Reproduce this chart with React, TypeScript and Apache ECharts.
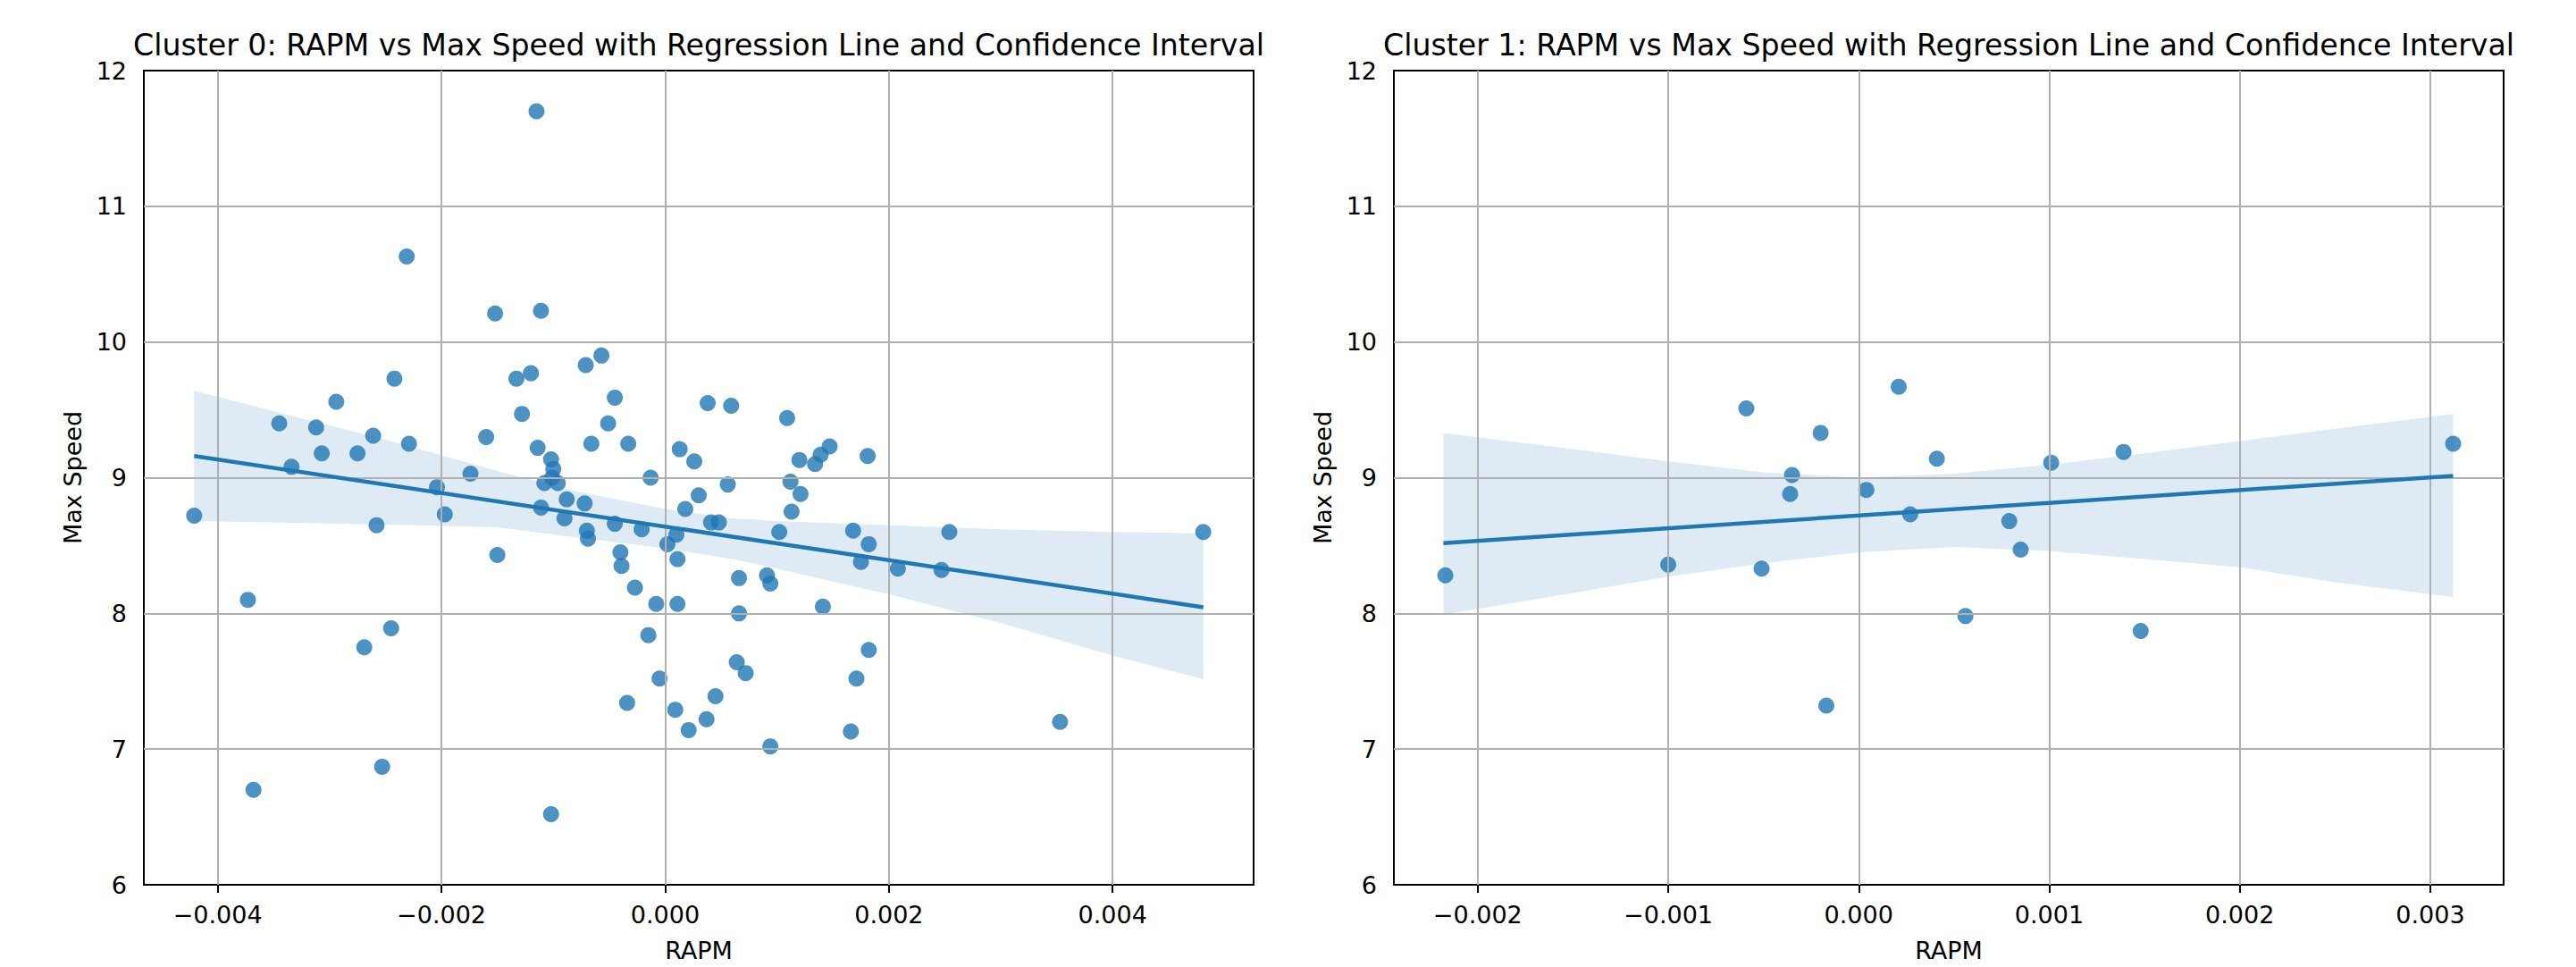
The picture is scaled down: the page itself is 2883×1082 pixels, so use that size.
import React, { useEffect, useRef } from "react";
import * as echarts from "echarts";

// ---------- Cluster 0 data ----------
const C0_X = [
  -0.00115, -0.00231, -0.00152, -0.00111, -0.00057, -0.00071, -0.0012, -0.00133, -0.00242, -0.00045,
  -0.00294, 0.00038, 0.00059, -0.00128, -0.00051, -0.00345, -0.00312, -0.00261, -0.0016, -0.00229,
  -0.00307, -0.00275, -0.00114, -0.00066, -0.00033, 0.00013, 0.00026, -0.00102, -0.001, -0.00101,
  -0.00108, -0.00096, -0.00334, -0.00174, -0.00013, 0.00056, -0.00204, -0.00421, -0.00197, -0.00258,
  -0.0015, -0.00373, -0.00111, -0.00088, -0.0009, -0.00072, -0.0007, -0.00069, -0.00045, -0.0004,
  -0.00039, -0.00027, -0.00021, -0.00008, -0.00034, -0.00015, -0.00005, 0.00002, 0.0001, 0.00011,
  0.00011, 0.00009, 0.00018, 0.00021, 0.0003, 0.00037, 0.00041, 0.00048, 0.00045, 0.00064,
  0.00072, 0.00066, 0.00066, -0.00368, -0.00253, -0.00269, -0.00245, -0.00102, 0.00109, 0.0012,
  0.00134, 0.00139, 0.00147, 0.00181, 0.00112, 0.00121, 0.00113, 0.00102, 0.00168, 0.00182,
  0.00254, 0.00481, 0.00175, 0.00208, 0.00247, 0.00091, 0.00094, 0.00141, 0.00182, 0.00171,
  0.00166, 0.00353, 0.00094,
];
const C0_Y = [
  11.7, 10.63, 10.21, 10.23, 9.9, 9.83, 9.77, 9.73, 9.73, 9.59,
  9.56, 9.55, 9.53, 9.47, 9.4, 9.4, 9.37, 9.31, 9.3, 9.25,
  9.18, 9.18, 9.22, 9.25, 9.25, 9.21, 9.12, 9.135, 9.065, 9.0,
  8.96, 8.96, 9.08, 9.03, 9.0, 8.95, 8.93, 8.72, 8.73, 8.65,
  8.43, 8.1, 8.78, 8.84, 8.7, 8.81, 8.61, 8.55, 8.66, 8.45,
  8.35, 8.19, 8.62, 8.07, 7.34, 7.84, 7.52, 8.51, 8.58, 8.4,
  8.07, 7.29, 8.77, 7.14, 8.87, 7.22, 8.67, 8.67, 7.39, 7.64,
  7.56, 8.26, 8.0, 6.7, 6.87, 7.75, 7.89, 6.52, 9.44, 9.13,
  9.1, 9.17, 9.23, 9.16, 8.97, 8.88, 8.75, 8.6, 8.61, 8.51,
  8.6, 8.6, 8.38, 8.33, 8.32, 8.28, 8.22, 8.05, 7.73, 7.52,
  7.13, 7.2, 7.02,
];
const C0_LINE_X = [-0.00421, 0.00481];
const C0_LINE_Y = [9.16, 8.045];
const C0_BAND_X = [-0.00421, -0.0035, -0.0025, -0.0015, -0.0008, 0, 0.0006, 0.001, 0.002, 0.003, 0.004, 0.00481];
const C0_BAND_HI = [9.64, 9.49, 9.28, 9.05, 8.9, 8.77, 8.7, 8.68, 8.65, 8.62, 8.6, 8.59];
const C0_BAND_LO = [8.68, 8.67, 8.655, 8.635, 8.56, 8.48, 8.4, 8.33, 8.14, 7.93, 7.69, 7.515];
const C0_XTICKS = [-0.004, -0.002, 0, 0.002, 0.004];

// ---------- Cluster 1 data ----------
const C1_X = [
  -0.00217, -0.001, -0.00059, -0.00051, -0.00035, -0.00036, -0.0002, -0.00017, 0.00004, 0.00021,
  0.00027, 0.00041, 0.00056, 0.00079, 0.00085, 0.00101, 0.00139, 0.00148, 0.00312,
];
const C1_Y = [
  8.28, 8.36, 9.51, 8.33, 9.02, 8.88, 9.33, 7.32, 8.91, 9.67,
  8.73, 9.14, 7.98, 8.68, 8.47, 9.11, 9.19, 7.87, 9.25,
];
const C1_LINE_X = [-0.00218, 0.00312];
const C1_LINE_Y = [8.517, 9.013];
const C1_BAND_X = [-0.00218, -0.0015, -0.001, -0.0005, 0, 0.0005, 0.001, 0.0015, 0.002, 0.0025, 0.00312];
const C1_BAND_HI = [9.33, 9.21, 9.12, 9.04, 9.0, 9.03, 9.095, 9.18, 9.27, 9.36, 9.47];
const C1_BAND_LO = [7.99, 8.15, 8.27, 8.37, 8.45, 8.49, 8.46, 8.4, 8.34, 8.23, 8.12];
const C1_XTICKS = [-0.002, -0.001, 0, 0.001, 0.002, 0.003];

const Y_TICKS = [6, 7, 8, 9, 10, 11, 12];
const TITLES = [
  "Cluster 0: RAPM vs Max Speed with Regression Line and Confidence Interval",
  "Cluster 1: RAPM vs Max Speed with Regression Line and Confidence Interval",
];
const X_NAME = "RAPM";
const Y_NAME = "Max Speed";

const FONT = "DejaVu Sans";
const BLUE = "#1f77b4";

const fmtX = (v: number) => {
  const s = Math.abs(v).toFixed(3);
  return (v < -1e-12 ? "\u2212" : "") + s;
};

export default function App() {
  const ref = useRef<HTMLDivElement>(null);

  useEffect(() => {
    if (!ref.current) return;
    const chart = echarts.init(ref.current, undefined, { renderer: "svg" });

    const panels = [
      {
        left: 161, xMin: -0.00466, xMax: 0.00526,
        X: C0_X, Y: C0_Y, lx: C0_LINE_X, ly: C0_LINE_Y,
        bx: C0_BAND_X, bhi: C0_BAND_HI, blo: C0_BAND_LO, ticks: C0_XTICKS,
      },
      {
        left: 1560, xMin: -0.00244, xMax: 0.003385,
        X: C1_X, Y: C1_Y, lx: C1_LINE_X, ly: C1_LINE_Y,
        bx: C1_BAND_X, bhi: C1_BAND_HI, blo: C1_BAND_LO, ticks: C1_XTICKS,
      },
    ];
    const W = 1242, TOP = 79, H = 923;

    const grid: any[] = [];
    const xAxis: any[] = [];
    const yAxis: any[] = [];
    const series: any[] = [];
    const graphic: any[] = [];

    panels.forEach((p, i) => {
      grid.push({
        left: p.left, top: TOP, width: W, height: H,
        show: true, borderColor: "#000", borderWidth: 2, backgroundColor: "transparent",
      });
      xAxis.push({
        gridIndex: i, type: "value", min: p.xMin, max: p.xMax,
        axisLine: { show: false },
        splitLine: { show: false },
        axisTick: { show: true, customValues: p.ticks, length: 9, lineStyle: { color: "#000", width: 2 } },
        axisLabel: {
          customValues: p.ticks, formatter: fmtX, margin: 20,
          fontSize: 27, color: "#000", fontFamily: FONT,
        },
        name: X_NAME, nameLocation: "middle", nameGap: 60,
        nameTextStyle: { fontSize: 27, color: "#000", fontFamily: FONT },
      });
      yAxis.push({
        gridIndex: i, type: "value", min: 6, max: 12, interval: 1,
        axisLine: { show: false },
        splitLine: { show: false },
        axisTick: { show: true, length: 9, lineStyle: { color: "#000", width: 2 } },
        axisLabel: { margin: 19, fontSize: 27, color: "#000", fontFamily: FONT },
        name: Y_NAME, nameLocation: "middle", nameGap: 66, nameRotate: 90,
        nameTextStyle: { fontSize: 27, color: "#000", fontFamily: FONT },
      });

      const bx = p.bx, bhi = p.bhi, blo = p.blo;
      series.push({
        type: "custom", xAxisIndex: i, yAxisIndex: i, z: 1, silent: true,
        data: bx.map((x, k) => [x, blo[k], bhi[k]]),
        encode: { x: 0, y: [1, 2] },
        renderItem: (params: any, api: any) => {
          if (params.dataIndex !== 0) return { type: "group", children: [] };
          const pts: number[][] = [];
          for (let k = 0; k < bx.length; k++) pts.push(api.coord([bx[k], bhi[k]]));
          for (let k = bx.length - 1; k >= 0; k--) pts.push(api.coord([bx[k], blo[k]]));
          return {
            type: "polygon",
            shape: { points: pts },
            style: { fill: "rgba(31,119,180,0.15)", stroke: "none" },
          };
        },
      });

      series.push({
        type: "scatter", xAxisIndex: i, yAxisIndex: i, z: 2, silent: true,
        data: p.X.map((x, k) => [x, p.Y[k]]),
        symbolSize: 18,
        itemStyle: { color: BLUE, opacity: 0.8 },
      });

      series.push({
        type: "line", xAxisIndex: i, yAxisIndex: i, z: 3, silent: true,
        data: [],
        markLine: {
          silent: true, symbol: ["none", "none"], label: { show: false }, z: 3,
          precision: 8,
          lineStyle: { color: "#b0b0b0", width: 2, type: "solid" },
          emphasis: { disabled: true },
          data: [
            ...p.ticks.map((v) => ({ xAxis: v })),
            ...Y_TICKS.filter((v) => v > 6 && v < 12).map((v) => ({ yAxis: v })),
          ],
        },
      });

      series.push({
        type: "line", xAxisIndex: i, yAxisIndex: i, z: 10, silent: true,
        data: p.lx.map((x, k) => [x, p.ly[k]]),
        showSymbol: false, symbol: "none",
        lineStyle: { color: BLUE, width: 4.5 },
      });

      graphic.push({
        type: "text", x: p.left + W / 2, y: 50,
        style: {
          text: TITLES[i], fontSize: 33.2, fontFamily: FONT, fill: "#000",
          align: "center", verticalAlign: "middle",
        },
      });
    });

    chart.setOption({
      animation: false,
      backgroundColor: "#fff",
      grid, xAxis, yAxis, series, graphic,
    });

    return () => chart.dispose();
  }, []);

  return (
    <div
      ref={ref}
      style={{ position: "fixed", left: 0, top: 0, width: 2883, height: 1082, background: "#fff" }}
    />
  );
}
